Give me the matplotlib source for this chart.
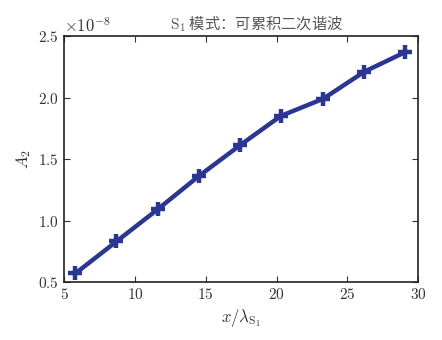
import matplotlib
matplotlib.use("Agg")
import matplotlib.pyplot as plt
from matplotlib.ticker import ScalarFormatter

x_vals = [5.8, 8.7, 11.6, 14.5, 17.4, 20.3, 23.3, 26.2, 29.1]
a2_vals = [0.57e-8, 0.83e-8, 1.09e-8, 1.36e-8, 1.61e-8, 1.85e-8, 1.99e-8, 2.21e-8, 2.37e-8]
x_ticks = [5, 10, 15, 20, 25, 30]
y_ticks = [0.5e-8, 1.0e-8, 1.5e-8, 2.0e-8, 2.5e-8]
title_text = r"$\mathrm{S}_1$ 模式：可累积二次谐波"

plt.rcParams['font.family'] = ['cmr10', 'DejaVu Sans']
plt.rcParams['mathtext.fontset'] = 'cm'
plt.rcParams['axes.unicode_minus'] = False
plt.rcParams['axes.formatter.use_mathtext'] = True

fig = plt.figure(figsize=(4.42, 3.4), dpi=100)
ax = fig.add_axes([0.145, 0.1706, 0.801, 0.7234])

ax.plot(x_vals, a2_vals, color='#2b3592', lw=3.2, marker='+', ms=10, mew=3.2)

ax.set_xlim(5, 30)
ax.set_ylim(0.5e-8, 2.5e-8)
ax.set_xticks(x_ticks)
ax.set_yticks(y_ticks)
fmt = ScalarFormatter(useMathText=True)
fmt.set_powerlimits((0, 0))
ax.yaxis.set_major_formatter(fmt)
ax.tick_params(direction='in', top=True, right=True, labelsize=11, length=4, width=0.8, colors='#333333', labelcolor='#333333')
for s in ax.spines.values():
    s.set_linewidth(1.2)
    s.set_color('#222222')
ax.yaxis.get_offset_text().set_fontsize(12)
ax.yaxis.get_offset_text().set_color('#333333')

ax.set_xlabel(r"$x/\lambda_{\mathrm{S}_1}$", fontsize=12, color='#333333')
ax.set_ylabel(r"$A_2$", fontsize=12, color='#333333')
ax.set_title(title_text, fontsize=11, color='#555555', pad=5, x=0.543,
             family=['Noto Sans CJK SC', 'DejaVu Sans'])

fig.savefig("out.png", dpi=100)
